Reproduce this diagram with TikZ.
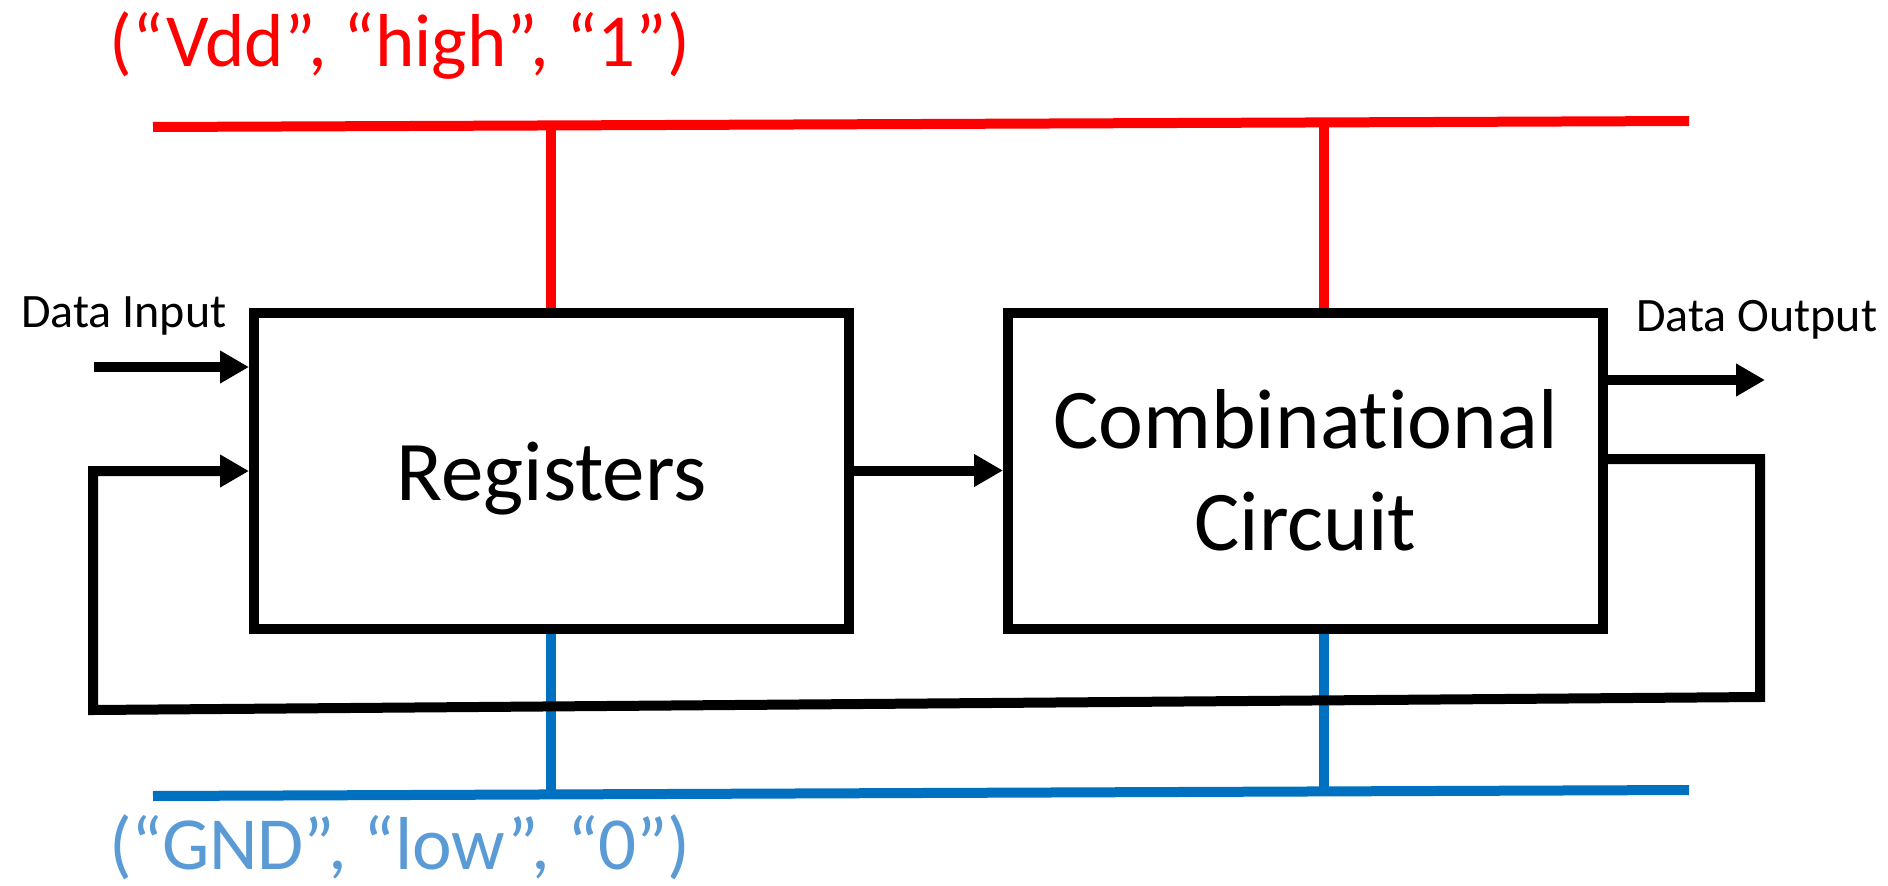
\documentclass[tikz,border=0pt]{standalone}
\usepackage{fontspec}
\setmainfont[Ligatures=NoCommon]{Carlito}
\usetikzlibrary{arrows.meta,calc}

\definecolor{vddred}{HTML}{FF0000}
\definecolor{gndblue}{HTML}{0070C0}
\definecolor{gndtext}{HTML}{5B9BD5}

\begin{document}
\begin{tikzpicture}[x=1pt,y=-1pt,
  block/.style={draw=black, line width=10pt, fill=white, inner sep=0pt,
                minimum width=595pt, minimum height=316pt, align=center},
  wire/.style={draw=black, line width=10pt},
  arrowwire/.style={wire, -{Triangle[length=29pt,width=31pt]}},
  vddline/.style={draw=vddred, line width=10pt},
  gndline/.style={draw=gndblue, line width=10pt},
  railtext/.style={inner sep=0pt, anchor=base, font=\fontsize{75}{82}\selectfont},
  iotext/.style={inner sep=0pt, anchor=base west, font=\fontsize{48}{54}\selectfont}
]
\useasboundingbox (0,0) rectangle (1888,886);

% supply and ground rails
\coordinate (vddL) at (153,127);
\coordinate (vddR) at (1689,121);
\coordinate (gndL) at (153,796);
\coordinate (gndR) at (1689,790);
\draw[vddline] (vddL) -- (vddR);
\draw[gndline] (gndL) -- (gndR);

% the two blocks (the kern keeps t and i as separate glyphs)
\node[block, font=\fontsize{85}{100}\selectfont, text height=59pt, text depth=0pt]
  (reg) at (551.5,470.5) {Registers};
\node[block, font=\fontsize{85}{104}\selectfont]
  (comb) at (1305.5,470.5) {Combinat\kern0pt ional\\[-2pt]Circuit};

% rail taps
\coordinate (vdd1) at (551,124.4);
\coordinate (vdd2) at (1324,122.4);
\coordinate (gnd1) at (551,794.4);
\coordinate (gnd2) at (1324,791.4);
\draw[vddline] (vdd1) -- (vdd1 |- reg.north);
\draw[vddline] (vdd2) -- (vdd2 |- comb.north);
\draw[gndline] (reg.south -| gnd1) -- (gnd1);
\draw[gndline] (comb.south -| gnd2) -- (gnd2);

% data input
\coordinate (din) at (94,367);
\draw[arrowwire] (din) -- (din -| reg.west);

% registers to combinational circuit
\draw[arrowwire] (reg.east) -- (comb.west);

% data output
\coordinate (dout) at (1765,380);
\draw[arrowwire] (comb.east |- dout) -- (dout);

% feedback loop
\coordinate (fbA) at (1760,459);
\coordinate (fbB) at (1760,697);
\coordinate (fbC) at (93,710);
\coordinate (fbD) at (93,471);
\draw[wire] (comb.east |- fbA) -- (fbA) -- (fbB) -- (fbC) -- (fbD) -- ([xshift=-26pt]fbD -| reg.west);
\draw[arrowwire] ([xshift=-30pt]fbD -| reg.west) -- (fbD -| reg.west);

% labels
\node[railtext, text=vddred] (vddlab) at (400,66) {(“Vdd”, “high”, “1”)};
\node[railtext, text=gndtext] (gndlab) at (400,869) {(“GND”, “low”, “0”)};
\node[iotext] (inlab) at (21,327) {Data Input};
\node[iotext] (outlab) at (1636,331) {Data Output};
\end{tikzpicture}
\end{document}
